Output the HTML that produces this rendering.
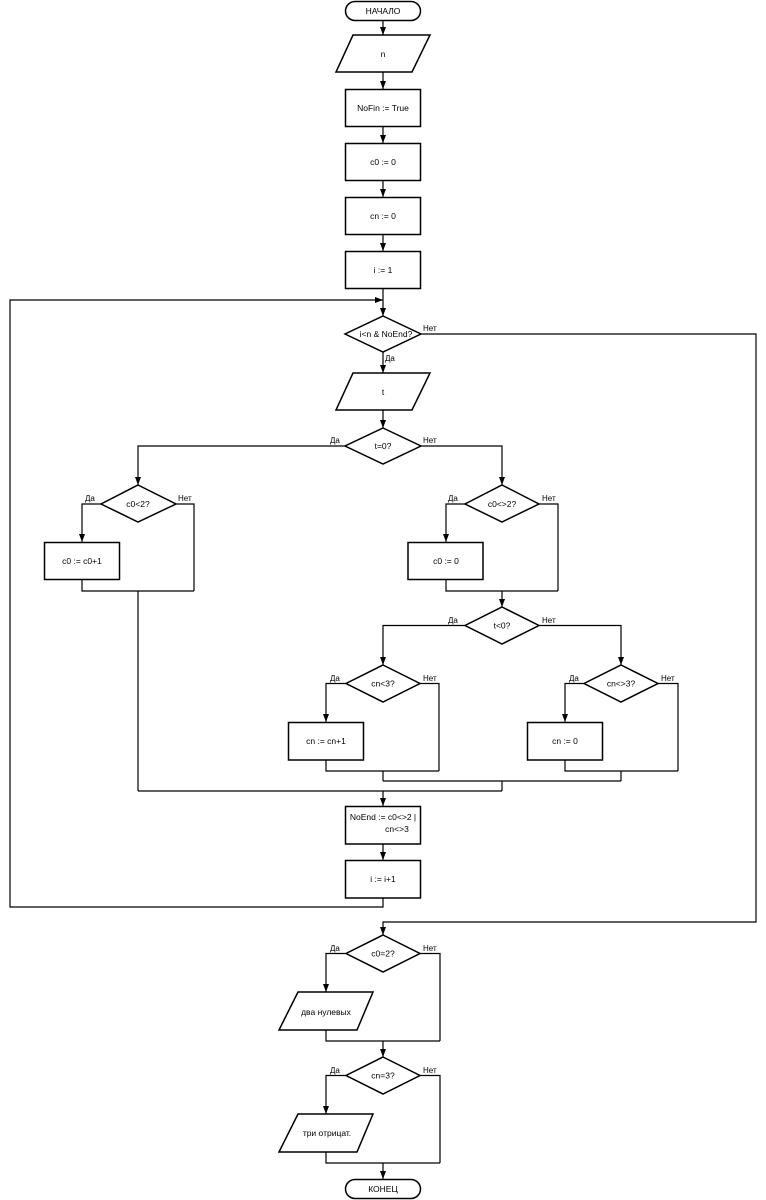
<!DOCTYPE html>
<html><head><meta charset="utf-8"><style>
html,body{margin:0;padding:0;background:#fff;}
svg{display:block;}
text{font-family:"Liberation Sans","DejaVu Sans",sans-serif;fill:#000;}
.t{font-size:8.5px;text-anchor:middle;dominant-baseline:central;}
.l{font-size:8px;}
.s{fill:#fff;stroke:#000;stroke-width:1.5;}
.c{fill:none;stroke:#000;stroke-width:1.2;}
.a{fill:#000;}
</style></head><body>
<svg width="766" height="1200" viewBox="0 0 766 1200" xmlns="http://www.w3.org/2000/svg">
<!-- connectors -->
<g class="c">
<path d="M383 21V35M383 72V89M383 127V143M383 181V197M383 235V251M383 289V316M383 352V373M383 410V428"/>
<path d="M345 446H138V485M421 446H502V485"/>
<path d="M101 504H82V542M176 504H194V591M82 580V591H194M138 591V791"/>
<path d="M465 504H446V542M539 504H558V591M446 580V591H558M502 591V607"/>
<path d="M465 625.5H383V665M539 625.5H621V665"/>
<path d="M346 683.5H326V722M420 683.5H439V771M326 760V771H439M383 771V781"/>
<path d="M584 683.5H565V722M658 683.5H678V771M565 760V771H678M621 771V781"/>
<path d="M383 781H621M502 781V791M138 791H502M383 791V806"/>
<path d="M383 844V860M383 898V907H10V300H383"/>
<path d="M421 334H756V922H383V935"/>
<path d="M346 953.5H326V992M420 953.5H440V1041M326 1030V1041H440M383 1041V1057"/>
<path d="M346 1075.5H326V1114M420 1075.5H440V1163M326 1152V1163H440M383 1163V1179"/>
</g>
<!-- arrowheads -->
<g class="a">
<polygon points="380,27 386,27 383,35"/>
<polygon points="380,81 386,81 383,89"/>
<polygon points="380,135 386,135 383,143"/>
<polygon points="380,189 386,189 383,197"/>
<polygon points="380,243 386,243 383,251"/>
<polygon points="380,308 386,308 383,316"/>
<polygon points="380,365 386,365 383,373"/>
<polygon points="380,420 386,420 383,428"/>
<polygon points="135,477 141,477 138,485"/>
<polygon points="499,477 505,477 502,485"/>
<polygon points="79,534 85,534 82,542"/>
<polygon points="443,534 449,534 446,542"/>
<polygon points="499,599 505,599 502,607"/>
<polygon points="380,657 386,657 383,665"/>
<polygon points="618,657 624,657 621,665"/>
<polygon points="323,714 329,714 326,722"/>
<polygon points="562,714 568,714 565,722"/>
<polygon points="380,798 386,798 383,806"/>
<polygon points="380,852 386,852 383,860"/>
<polygon points="380,927 386,927 383,935"/>
<polygon points="323,984 329,984 326,992"/>
<polygon points="380,1049 386,1049 383,1057"/>
<polygon points="323,1106 329,1106 326,1114"/>
<polygon points="380,1171 386,1171 383,1179"/>
<polygon points="375,297 375,303 383,300"/>
</g>
<!-- shapes -->
<rect class="s" x="345.5" y="1.5" width="75" height="19" rx="9.5"/>
<polygon class="s" points="353,35 430,35 412,72 336,72"/>
<rect class="s" x="345.5" y="89.5" width="75" height="37"/>
<rect class="s" x="345.5" y="143.5" width="75" height="37"/>
<rect class="s" x="345.5" y="197.5" width="75" height="37"/>
<rect class="s" x="345.5" y="251.5" width="75" height="37"/>
<polygon class="s" points="383,316 421,334 383,352 345,334"/>
<polygon class="s" points="353,373 430,373 412,410 336,410"/>
<polygon class="s" points="383,428 421,446 383,464 345,446"/>
<polygon class="s" points="138,485 176,504 138,522 101,504"/>
<rect class="s" x="44.5" y="542.5" width="75" height="37"/>
<polygon class="s" points="502,485 539,504 502,522 465,504"/>
<rect class="s" x="408" y="542.5" width="75" height="37"/>
<polygon class="s" points="502,607 539,625.5 502,644 465,625.5"/>
<polygon class="s" points="383,665 420,683.5 383,702 346,683.5"/>
<rect class="s" x="288.5" y="722.5" width="75" height="37.5"/>
<polygon class="s" points="621,665 658,683.5 621,702 584,683.5"/>
<rect class="s" x="527.5" y="722.5" width="75" height="37.5"/>
<rect class="s" x="345.5" y="806.5" width="75" height="37.5"/>
<rect class="s" x="345.5" y="860.5" width="75" height="37.5"/>
<polygon class="s" points="383,935 420,953.5 383,972 346,953.5"/>
<polygon class="s" points="298,992 373,992 357,1030 279,1030"/>
<polygon class="s" points="383,1057 420,1075.5 383,1094 346,1075.5"/>
<polygon class="s" points="298,1114 373,1114 357,1152 279,1152"/>
<rect class="s" x="345.5" y="1179.5" width="75" height="19" rx="9.5"/>
<!-- texts -->
<text class="t" x="383" y="11">НАЧАЛО</text>
<text class="t" x="383" y="54">n</text>
<text class="t" x="383" y="108">NoFin := True</text>
<text class="t" x="383" y="162">c0 := 0</text>
<text class="t" x="383" y="216">cn := 0</text>
<text class="t" x="383" y="270">i := 1</text>
<text class="t" x="386" y="334">i&lt;n &amp; NoEnd?</text>
<text class="t" x="383" y="392">t</text>
<text class="t" x="383" y="446">t=0?</text>
<text class="t" x="138" y="504">c0&lt;2?</text>
<text class="t" x="82" y="561">c0 := c0+1</text>
<text class="t" x="502" y="504">c0&lt;&gt;2?</text>
<text class="t" x="446" y="561">c0 := 0</text>
<text class="t" x="502" y="625.5">t&lt;0?</text>
<text class="t" x="383" y="683.5">cn&lt;3?</text>
<text class="t" x="326" y="741">cn := cn+1</text>
<text class="t" x="621" y="683.5">cn&lt;&gt;3?</text>
<text class="t" x="565" y="741">cn := 0</text>
<text class="t" x="383" y="817">NoEnd := c0&lt;&gt;2 |</text>
<text class="t" x="397" y="829">cn&lt;&gt;3</text>
<text class="t" x="383" y="879">i := i+1</text>
<text class="t" x="383" y="953.5">c0=2?</text>
<text class="t" x="326" y="1012">два нулевых</text>
<text class="t" x="383" y="1075.5">cn=3?</text>
<text class="t" x="327" y="1133">три отрицат.</text>
<text class="t" x="383" y="1189">КОНЕЦ</text>
<!-- labels -->
<g class="l">
<text x="423" y="331">Нет</text>
<text x="385" y="361">Да</text>
<text x="330" y="443">Да</text>
<text x="423" y="443">Нет</text>
<text x="85" y="501">Да</text>
<text x="178" y="501">Нет</text>
<text x="448" y="501">Да</text>
<text x="542" y="501">Нет</text>
<text x="448" y="623">Да</text>
<text x="542" y="623">Нет</text>
<text x="330" y="681">Да</text>
<text x="423" y="681">Нет</text>
<text x="569" y="681">Да</text>
<text x="661" y="681">Нет</text>
<text x="330" y="951">Да</text>
<text x="423" y="951">Нет</text>
<text x="330" y="1073">Да</text>
<text x="423" y="1073">Нет</text>
</g>
</svg>
</body></html>
